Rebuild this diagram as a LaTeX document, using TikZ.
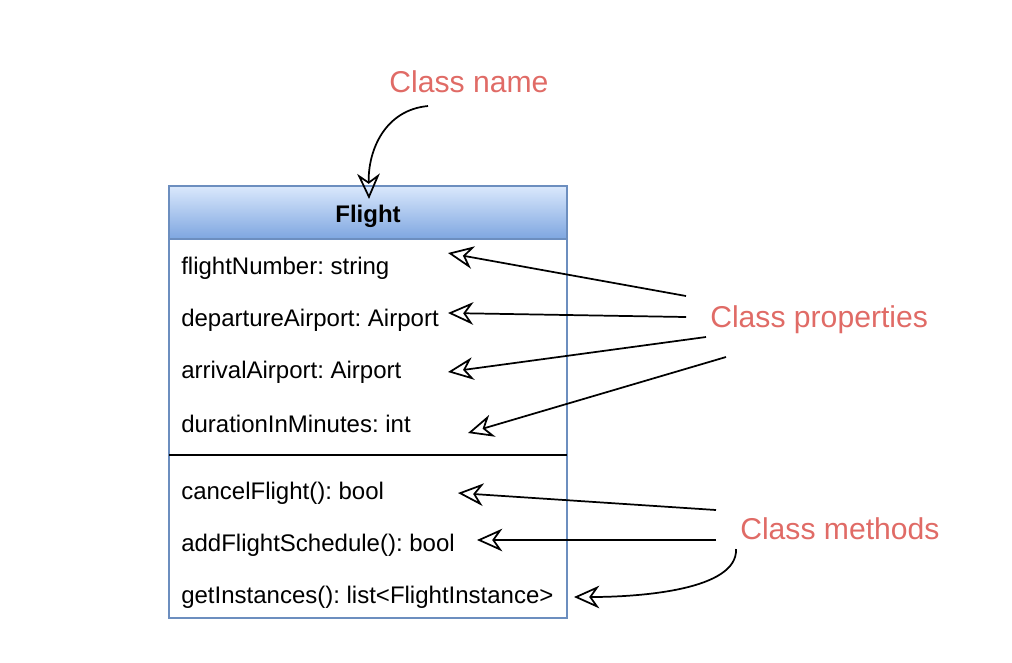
\documentclass[tikz,border=0pt]{standalone}
\usepackage{fontspec}
\setmainfont{Liberation Sans}
\usetikzlibrary{arrows.meta}
\frenchspacing
\definecolor{umlborder}{HTML}{6C8EBF}
\definecolor{hdtop}{HTML}{DAE8FC}
\definecolor{hdbot}{HTML}{7EA6E0}
\definecolor{note}{HTML}{E06B66}
\tikzset{
  member/.style={anchor=west, inner sep=0pt, font=\fontsize{18}{20}\selectfont},
  callout/.style={inner sep=0pt, text=note, font=\fontsize{22.6}{26}\selectfont},
  pointer/.style={line width=1.3pt, -{Stealth[open, length=19pt, width=17pt, inset=6pt, line width=1.3pt]}},
}
\begin{document}
\begin{tikzpicture}[x=0.75pt,y=-0.75pt]
\useasboundingbox (0,0) rectangle (1012,662);
% class box
\shade[top color=hdtop, bottom color=hdbot] (169,186) rectangle (567,239);
\draw[umlborder, line width=1.2pt] (169,186) rectangle (567,618);
\draw[umlborder, line width=1.2pt] (169,239) -- (567,239);
\draw[black, line width=1.2pt] (169,455) -- (567,455);
\node[inner sep=0pt, font=\fontsize{18}{20}\selectfont\bfseries] (title) at (368,216) {Flight};
\node[member] (p1) at (181,268) {flightNumber: string};
\node[member] (p2) at (181,320) {departureAirport: Airport};
\node[member] (p3) at (181,372) {arrivalAirport: Airport};
\node[member] (p4) at (181,424) {durationInMinutes: int};
\node[member] (m1) at (181,493) {cancelFlight(): bool};
\node[member] (m2) at (181,545) {addFlightSchedule(): bool};
\node[member] (m3) at (181,597) {getInstances(): list<FlightInstance>};
% callouts
\node[callout] (cn) at (469,82) {Class name};
\node[callout, anchor=west] (cp) at (710,320) {Class properties};
\node[callout, anchor=west] (cm) at (740,529) {Class methods};
% arrow ends
\coordinate (cnS) at (428,106);
\coordinate (cnT) at (369,199);
\coordinate (pS1) at (686,296);
\coordinate (pS2) at (686,317);
\coordinate (pS3) at (706,337);
\coordinate (pS4) at (726,357);
\coordinate (pT1) at (448,253);
\coordinate (pT2) at (448,313);
\coordinate (pT3) at (448,372);
\coordinate (pT4) at (468,433);
\coordinate (mS1) at (716,510);
\coordinate (mS2) at (716,540);
\coordinate (mS3) at (736,549);
\coordinate (mT1) at (458,493);
\coordinate (mT2) at (477,540);
\coordinate (mT3) at (574,597);
\draw[pointer] (cnS) .. controls (385,110) and (368,150) .. (cnT);
\draw[pointer] (pS1) -- (pT1);
\draw[pointer] (pS2) -- (pT2);
\draw[pointer] (pS3) -- (pT3);
\draw[pointer] (pS4) -- (pT4);
\draw[pointer] (mS1) -- (mT1);
\draw[pointer] (mS2) -- (mT2);
\draw[pointer] (mS3) .. controls (738,590) and (640,597) .. (mT3);
\end{tikzpicture}
\end{document}
